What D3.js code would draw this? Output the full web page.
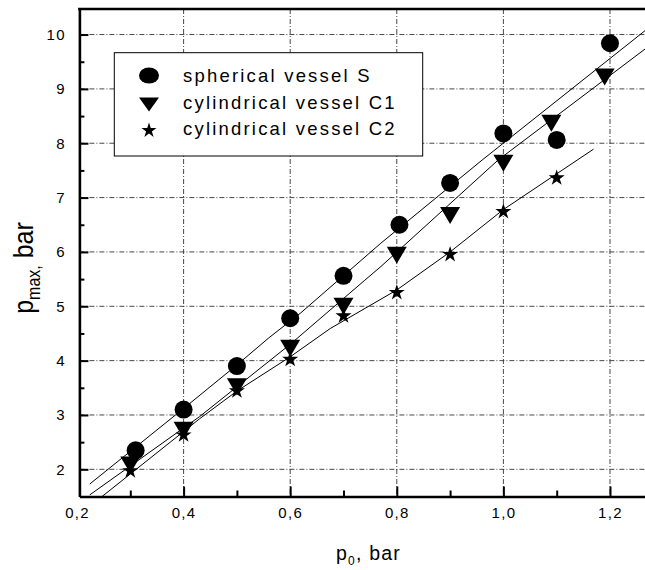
<!DOCTYPE html>
<html>
<head>
<meta charset="utf-8">
<script src="https://cdn.jsdelivr.net/npm/d3@7"></script>
<style>
body{margin:0;background:#fff}
text{font-family:"Liberation Sans",Arial,sans-serif;fill:#000}
</style>
</head>
<body>
<script>
// measured points, p0 (bar) vs pmax (bar)
var p0S    = [0.31, 0.40, 0.50, 0.60, 0.70, 0.805, 0.90, 1.00, 1.10, 1.20];
var pmaxS  = [2.35, 3.10, 3.90, 4.78, 5.56, 6.50, 7.27, 8.18, 8.06, 9.84];
var p0C1   = [0.30, 0.40, 0.50, 0.60, 0.70, 0.80, 0.90, 1.00, 1.09, 1.19];
var pmaxC1 = [2.08, 2.72, 3.52, 4.23, 5.00, 5.94, 6.67, 7.63, 8.37, 9.22];
var p0C2   = [0.30, 0.40, 0.50, 0.60, 0.70, 0.80, 0.90, 1.00, 1.10];
var pmaxC2 = [1.99, 2.65, 3.46, 4.04, 4.84, 5.27, 5.97, 6.76, 7.38];

// fitted curves
var fitSx  = [0.224, 0.40, 0.50, 0.56, 0.62, 0.77, 0.96, 1.272];
var fitSy  = [1.73, 3.12, 3.92, 4.42, 4.88, 6.16, 7.69, 10.12];
var fitC1x = [0.224, 0.43, 0.60, 0.74, 0.77, 0.99, 1.272];
var fitC1y = [1.53, 2.97, 4.30, 5.48, 5.73, 7.69, 9.78];
var fitC2x = [0.247, 0.43, 0.50, 0.60, 0.675, 0.80, 0.90, 1.00, 1.169];
var fitC2y = [1.50, 2.93, 3.44, 4.07, 4.59, 5.30, 6.00, 6.78, 7.89];

var xMajor = [0.2, 0.4, 0.6, 0.8, 1.0, 1.2];
var xMinor = [0.3, 0.5, 0.7, 0.9, 1.1];
var yMajor = [2, 3, 4, 5, 6, 7, 8, 9, 10];
var yMinor = [2.5, 3.5, 4.5, 5.5, 6.5, 7.5, 8.5, 9.5];
var legendNames = ["spherical vessel S", "cylindrical vessel C1", "cylindrical vessel C2"];

var W = 645, H = 570;
var x = d3.scaleLinear().domain([0.2045, 1.27]).range([79.4, 647.3]);
var y = d3.scaleLinear().domain([1.5, 10.47]).range([496.5, 9]);
var left = x.range()[0], right = W, top_ = y.range()[1], bottom = y.range()[0];

function zip(a, b){ return a.map(function(v, i){ return [v, b[i]]; }); }

var svg = d3.select("body").append("svg")
   .attr("width", W)
   .attr("height", H);

// grid
var grid = svg.append("g");
grid.selectAll(".gx").data(xMajor.filter(function(d){ return d > 0.3; })).enter()
   .append("line")
   .attr("x1", function(d){ return x(d); }).attr("x2", function(d){ return x(d); })
   .attr("y1", top_).attr("y2", bottom)
   .attr("stroke", "#333").attr("stroke-width", 0.9)
   .attr("stroke-dasharray", "5,2,1,2");
grid.selectAll(".gy").data(yMajor).enter()
   .append("line")
   .attr("x1", left).attr("x2", right)
   .attr("y1", function(d){ return y(d); }).attr("y2", function(d){ return y(d); })
   .attr("stroke", "#333").attr("stroke-width", 0.9)
   .attr("stroke-dasharray", "5,2,1,2");

// legend box (under the data)
var lg = svg.append("g");
lg.append("rect")
   .attr("x", 114.3).attr("y", 52.7).attr("width", 308.4).attr("height", 103.3)
   .attr("fill", "#fff").attr("stroke", "#000").attr("stroke-width", 1);

// fitted lines
var line = d3.line().x(function(d){ return x(d[0]); }).y(function(d){ return y(d[1]); });
[zip(fitSx, fitSy), zip(fitC1x, fitC1y), zip(fitC2x, fitC2y)].forEach(function(pts){
  svg.append("path").attr("d", line(pts))
     .attr("fill", "none").attr("stroke", "#000").attr("stroke-width", 1);
});

// markers
var triDown = "M-10,-8.5L10,-8.5L0,8.5Z";
var star = d3.symbol().type(d3.symbolStar).size(80)();

svg.append("g").selectAll("circle").data(zip(p0S, pmaxS)).enter()
   .append("circle")
   .attr("cx", function(d){ return x(d[0]); })
   .attr("cy", function(d){ return y(d[1]); })
   .attr("r", 9).attr("fill", "#000");

svg.append("g").selectAll("path").data(zip(p0C1, pmaxC1)).enter()
   .append("path").attr("d", triDown)
   .attr("transform", function(d){ return "translate(" + x(d[0]) + "," + y(d[1]) + ")"; })
   .attr("fill", "#000");

svg.append("g").selectAll("path").data(zip(p0C2, pmaxC2)).enter()
   .append("path").attr("d", star)
   .attr("transform", function(d){ return "translate(" + x(d[0]) + "," + (y(d[1]) + 1) + ")"; })
   .attr("fill", "#000");

// legend entries
var rowsY = [81.5, 108.5, 135];
lg.append("ellipse").attr("cx", 149).attr("cy", 75.5).attr("rx", 10).attr("ry", 8).attr("fill", "#000");
lg.append("path").attr("d", "M-10,-7L10,-7L0,7Z").attr("transform", "translate(149,104.5)").attr("fill", "#000");
lg.append("path").attr("d", d3.symbol().type(d3.symbolStar).size(70)()).attr("transform", "translate(149,130.5)").attr("fill", "#000");
lg.selectAll("text.lt").data(legendNames).enter()
   .append("text")
   .attr("x", 183).attr("y", function(d, i){ return rowsY[i]; })
   .style("font-size", "18.5px")
   .style("letter-spacing", "2.2px")
   .text(function(d){ return d; });

// axes
var fmtX = function(d){ return d3.format(".1f")(d).replace(".", ","); };

var xAxis = svg.append("g").attr("transform", "translate(0," + bottom + ")")
   .call(d3.axisBottom(x).tickValues(xMajor).tickSize(-10).tickSizeOuter(0).tickPadding(11).tickFormat(fmtX));
xAxis.selectAll(".tick line").filter(function(d){ return d < 0.25; }).remove();
var xAxisMinor = svg.append("g").attr("transform", "translate(0," + bottom + ")")
   .call(d3.axisBottom(x).tickValues(xMinor).tickSize(-6).tickFormat(""));
xAxisMinor.select(".domain").remove();

var yAxis = svg.append("g").attr("transform", "translate(" + left + ",0)")
   .call(d3.axisLeft(y).tickValues(yMajor).tickSize(-9).tickSizeOuter(0).tickPadding(13.5).tickFormat(d3.format("d")));
var yAxisMinor = svg.append("g").attr("transform", "translate(" + left + ",0)")
   .call(d3.axisLeft(y).tickValues(yMinor).tickSize(-5).tickFormat(""));
yAxisMinor.select(".domain").remove();

svg.selectAll(".domain").attr("stroke", "#000").attr("stroke-width", 2.6);
svg.selectAll(".tick line").attr("stroke", "#000").attr("stroke-width", 2);
svg.selectAll(".tick text")
   .style("font-size", "15px").style("letter-spacing", "1.3px")
   .style("font-family", "Liberation Sans, Arial, sans-serif");

// top frame line
svg.append("line").attr("x1", left - 1.3).attr("x2", right).attr("y1", top_).attr("y2", top_)
   .attr("stroke", "#000").attr("stroke-width", 2.6);

// axis titles
var xt = svg.append("text").attr("x", 336).attr("y", 560).style("font-size", "19.5px").style("letter-spacing", "1.2px");
xt.append("tspan").text("p");
xt.append("tspan").attr("dy", 5).style("font-size", "12px").text("0");
xt.append("tspan").attr("dy", -5).text(", bar");

var yt = svg.append("text").attr("transform", "translate(33,268) rotate(-90) scale(1,1.1)")
   .attr("text-anchor", "middle").style("font-size", "25px");
yt.append("tspan").text("p");
yt.append("tspan").attr("dy", 6).style("font-size", "16px").text("max,");
yt.append("tspan").attr("dy", -6).text(" bar");
</script>
</body>
</html>
